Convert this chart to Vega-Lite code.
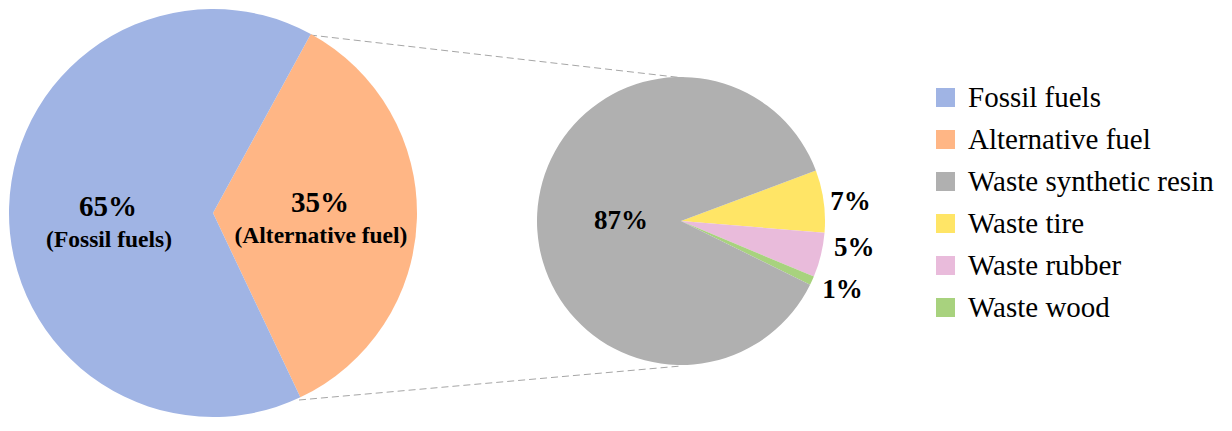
{
  "$schema": "https://vega.github.io/schema/vega-lite/v6.json",
  "width": 1232,
  "height": 431,
  "padding": 0,
  "autosize": "none",
  "config": {
    "view": {"stroke": null},
    "font": "Liberation Serif",
    "text": {"font": "Liberation Serif", "fontWeight": "bold", "color": "black"},
    "legend": {
      "orient": "none",
      "legendX": 931,
      "legendY": 83,
      "padding": 0,
      "labelFont": "Liberation Serif",
      "labelFontSize": 29,
      "labelColor": "black",
      "labelLimit": 0,
      "labelOffset": 8,
      "rowPadding": 12,
      "symbolType": "square",
      "symbolSize": 361,
      "symbolStrokeWidth": 0,
      "symbolOpacity": 1
    }
  },
  "datasets": {
    "fuel": [
      {"chart": "Fuel mix", "category": "Alternative fuel", "value": 35, "rank": 1},
      {"chart": "Fuel mix", "category": "Fossil fuels", "value": 65, "rank": 2},
      {"chart": "Alternative fuel mix", "category": "Waste tire", "value": 7, "rank": 1},
      {"chart": "Alternative fuel mix", "category": "Waste rubber", "value": 5, "rank": 2},
      {"chart": "Alternative fuel mix", "category": "Waste wood", "value": 1, "rank": 3},
      {"chart": "Alternative fuel mix", "category": "Waste synthetic resin", "value": 87, "rank": 4}
    ],
    "links": [
      {"edge": "top", "x": 310, "y": 35, "x2": 684, "y2": 78},
      {"edge": "bottom", "x": 299, "y": 400, "x2": 681, "y2": 366}
    ]
  },
  "layer": [
    {
      "data": {"name": "links"},
      "mark": {"type": "rule", "color": "#A6A6A6", "strokeWidth": 1, "strokeDash": [7, 4]},
      "encoding": {
        "x": {"field": "x", "type": "quantitative", "scale": {"domain": [0, 1232]}, "axis": null},
        "x2": {"field": "x2"},
        "y": {"field": "y", "type": "quantitative", "scale": {"domain": [0, 431], "reverse": true}, "axis": null},
        "y2": {"field": "y2"}
      }
    },
    {
      "data": {"name": "fuel"},
      "transform": [
        {"filter": "datum.chart === 'Fuel mix'"},
        {"stack": "value", "groupby": ["chart"], "sort": [{"field": "rank", "order": "ascending"}], "as": ["v0", "v1"]},
        {"calculate": "(datum.v0 + datum.v1) / 2", "as": "mid"},
        {"calculate": "datum.value + '%'", "as": "pct"},
        {"calculate": "'(' + datum.category + ')'", "as": "name"}
      ],
      "encoding": {
        "x": {"field": "chart", "type": "nominal", "scale": {"type": "point", "domain": ["Fuel mix", "Alternative fuel mix"], "range": [213, 681], "padding": 0}, "axis": null},
        "y": {"field": "chart", "type": "nominal", "scale": {"type": "point", "domain": ["Fuel mix", "Alternative fuel mix"], "range": [213, 221], "padding": 0}, "axis": null}
      },
      "layer": [
        {
          "mark": {"type": "arc", "outerRadius": 204},
          "encoding": {
            "theta": {"field": "v0", "type": "quantitative", "stack": null, "scale": {"domain": [0, 100], "range": [0.5, 6.7832]}},
            "theta2": {"field": "v1"},
            "color": {
              "field": "category",
              "type": "nominal",
              "scale": {
                "domain": ["Fossil fuels", "Alternative fuel", "Waste synthetic resin", "Waste tire", "Waste rubber", "Waste wood"],
                "range": ["#A0B4E4", "#FFB685", "#B0B0B0", "#FFE566", "#E9BBDB", "#A8D27E"]
              },
              "legend": {"title": null}
            }
          }
        },
        {
          "transform": [{"filter": "datum.category === 'Fossil fuels'"}],
          "mark": {"type": "text", "radius": 106, "fontSize": 29, "dx": 1, "dy": -3},
          "encoding": {"theta": {"field": "mid", "type": "quantitative", "stack": null}, "text": {"field": "pct"}}
        },
        {
          "transform": [{"filter": "datum.category === 'Fossil fuels'"}],
          "mark": {"type": "text", "radius": 106, "fontSize": 23.5, "dx": 2, "dy": 30},
          "encoding": {"theta": {"field": "mid", "type": "quantitative", "stack": null}, "text": {"field": "name"}}
        },
        {
          "transform": [{"filter": "datum.category === 'Alternative fuel'"}],
          "mark": {"type": "text", "radius": 106, "fontSize": 29, "dx": 1, "dy": -13},
          "encoding": {"theta": {"field": "mid", "type": "quantitative", "stack": null}, "text": {"field": "pct"}}
        },
        {
          "transform": [{"filter": "datum.category === 'Alternative fuel'"}],
          "mark": {"type": "text", "radius": 106, "fontSize": 23.5, "dx": 2, "dy": 20},
          "encoding": {"theta": {"field": "mid", "type": "quantitative", "stack": null}, "text": {"field": "name"}}
        }
      ]
    },
    {
      "data": {"name": "fuel"},
      "transform": [
        {"filter": "datum.chart === 'Alternative fuel mix'"},
        {"stack": "value", "groupby": ["chart"], "sort": [{"field": "rank", "order": "ascending"}], "as": ["v0", "v1"]},
        {"calculate": "(datum.v0 + datum.v1) / 2", "as": "mid"},
        {"calculate": "datum.value + '%'", "as": "pct"}
      ],
      "encoding": {
        "x": {"field": "chart", "type": "nominal", "scale": {"type": "point", "domain": ["Fuel mix", "Alternative fuel mix"], "range": [213, 681], "padding": 0}, "axis": null},
        "y": {"field": "chart", "type": "nominal", "scale": {"type": "point", "domain": ["Fuel mix", "Alternative fuel mix"], "range": [213, 221], "padding": 0}, "axis": null}
      },
      "layer": [
        {
          "mark": {"type": "arc", "outerRadius": 144},
          "encoding": {
            "theta": {"field": "v0", "type": "quantitative", "stack": null, "scale": {"domain": [0, 100], "range": [1.213, 7.4962]}},
            "theta2": {"field": "v1"},
            "color": {"field": "category", "type": "nominal", "legend": {"title": null}}
          }
        },
        {
          "transform": [{"filter": "datum.category === 'Waste synthetic resin'"}],
          "mark": {"type": "text", "radius": 62, "fontSize": 27, "dx": 2, "dy": 3},
          "encoding": {"theta": {"field": "mid", "type": "quantitative", "stack": null}, "text": {"field": "pct"}}
        },
        {
          "transform": [{"filter": "datum.category === 'Waste tire'"}],
          "mark": {"type": "text", "radius": 171, "fontSize": 27, "dx": 0, "dy": 5},
          "encoding": {"theta": {"field": "mid", "type": "quantitative", "stack": null}, "text": {"field": "pct"}}
        },
        {
          "transform": [{"filter": "datum.category === 'Waste rubber'"}],
          "mark": {"type": "text", "radius": 171, "fontSize": 27, "dx": 7, "dy": -13},
          "encoding": {"theta": {"field": "mid", "type": "quantitative", "stack": null}, "text": {"field": "pct"}}
        },
        {
          "transform": [{"filter": "datum.category === 'Waste wood'"}],
          "mark": {"type": "text", "radius": 171, "fontSize": 27, "dx": 6, "dy": -2},
          "encoding": {"theta": {"field": "mid", "type": "quantitative", "stack": null}, "text": {"field": "pct"}}
        }
      ]
    }
  ],
  "resolve": {"scale": {"x": "independent", "y": "independent", "theta": "independent"}}
}
